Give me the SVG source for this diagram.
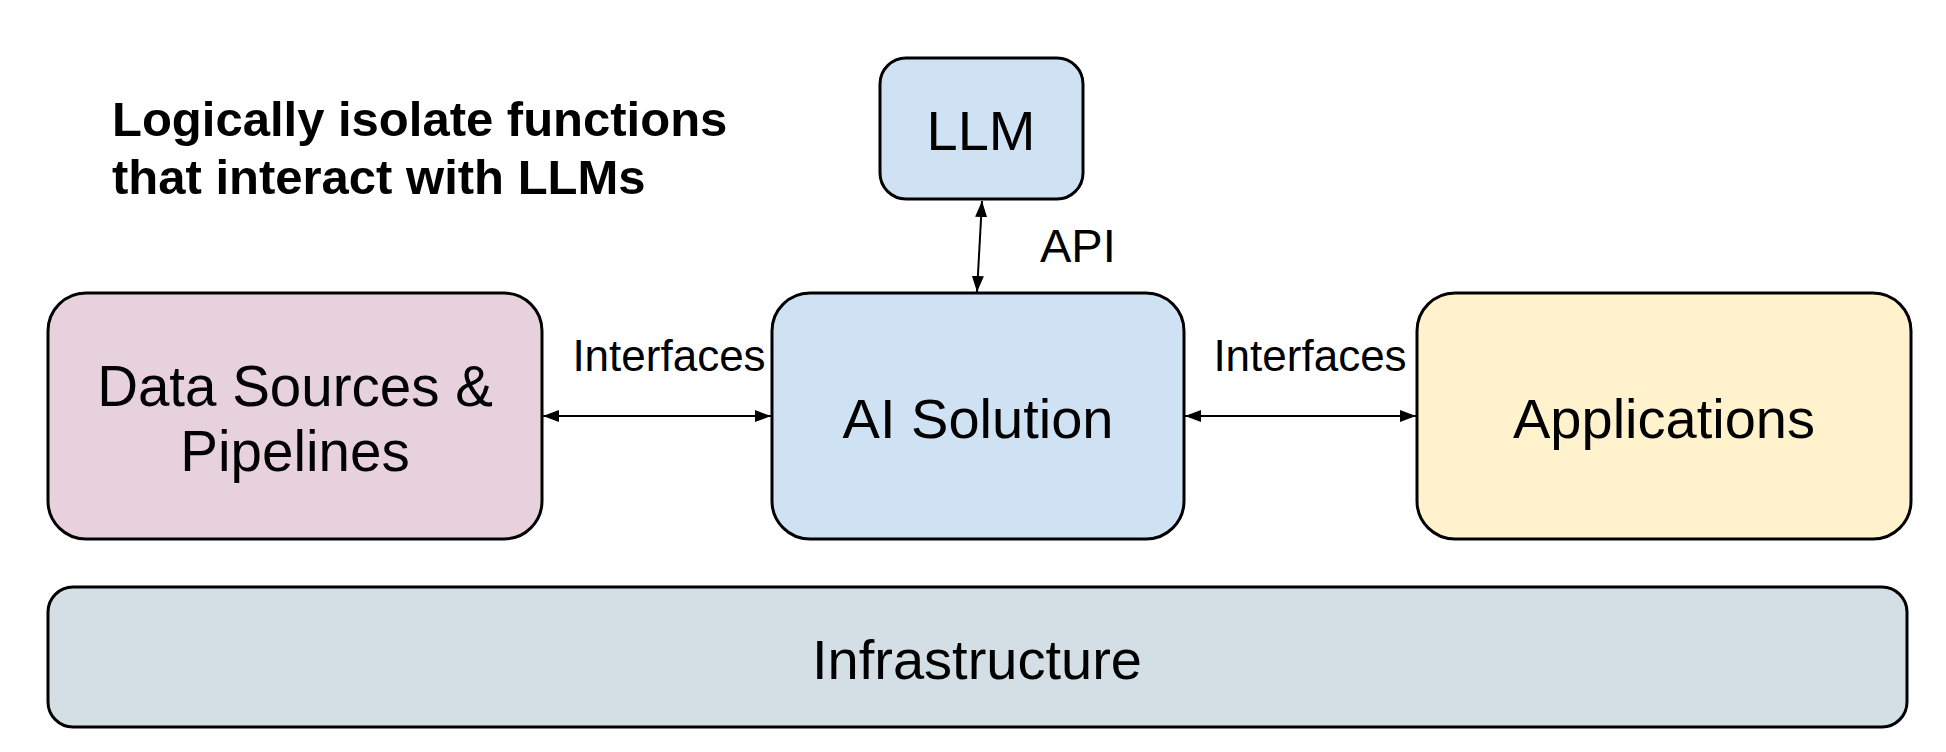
<svg xmlns="http://www.w3.org/2000/svg" width="1946" height="752" viewBox="0 0 1946 752">
<defs>
<style>
.box{stroke:#000;stroke-width:3}
.t{font-family:"Liberation Sans",Arial,sans-serif;fill:#000}
.c{stroke:#000;stroke-width:2;fill:none}
</style>
<marker id="ah" viewBox="0 0 16 12" refX="16" refY="6" markerWidth="16" markerHeight="12" markerUnits="userSpaceOnUse" orient="auto-start-reverse">
<path d="M0,0 L16,6 L0,12 Z" fill="#000"/>
</marker>
</defs>
<rect width="1946" height="752" fill="#fff"/>
<g id="title">
<text class="t" x="112" y="136" font-size="49" font-weight="bold">Logically isolate functions</text>
<text class="t" x="112" y="194" font-size="49" font-weight="bold">that interact with LLMs</text>
</g>
<g id="connectors">
<line class="c" x1="982" y1="201" x2="977" y2="292" marker-start="url(#ah)" marker-end="url(#ah)"/>
<line class="c" x1="543" y1="416" x2="771" y2="416" marker-start="url(#ah)" marker-end="url(#ah)"/>
<line class="c" x1="1185" y1="416" x2="1416" y2="416" marker-start="url(#ah)" marker-end="url(#ah)"/>
<text class="t" x="1040" y="262" font-size="47">API</text>
<text class="t" x="669" y="371" font-size="44" text-anchor="middle">Interfaces</text>
<text class="t" x="1310" y="371" font-size="44" text-anchor="middle">Interfaces</text>
</g>
<g id="llm">
<rect class="box" x="880" y="58" width="203" height="141" rx="26" fill="#cfe2f3"/>
<text class="t" x="981" y="150" font-size="56" text-anchor="middle">LLM</text>
</g>
<g id="data">
<rect class="box" x="48" y="293" width="494" height="246" rx="38" fill="#e6d1dd"/>
<text class="t" x="295" y="406" font-size="56.5" text-anchor="middle">Data Sources &amp;</text>
<text class="t" x="295" y="471" font-size="56.5" text-anchor="middle">Pipelines</text>
</g>
<g id="ai">
<rect class="box" x="772" y="293" width="412" height="246" rx="38" fill="#cfe2f3"/>
<text class="t" x="978" y="438" font-size="56" text-anchor="middle">AI Solution</text>
</g>
<g id="apps">
<rect class="box" x="1417" y="293" width="494" height="246" rx="38" fill="#fff2cc"/>
<text class="t" x="1664" y="438" font-size="56" text-anchor="middle">Applications</text>
</g>
<g id="infra">
<rect class="box" x="48" y="587" width="1859" height="140" rx="25" fill="#d3dfe5"/>
<text class="t" x="977" y="679" font-size="56" text-anchor="middle">Infrastructure</text>
</g>
</svg>
